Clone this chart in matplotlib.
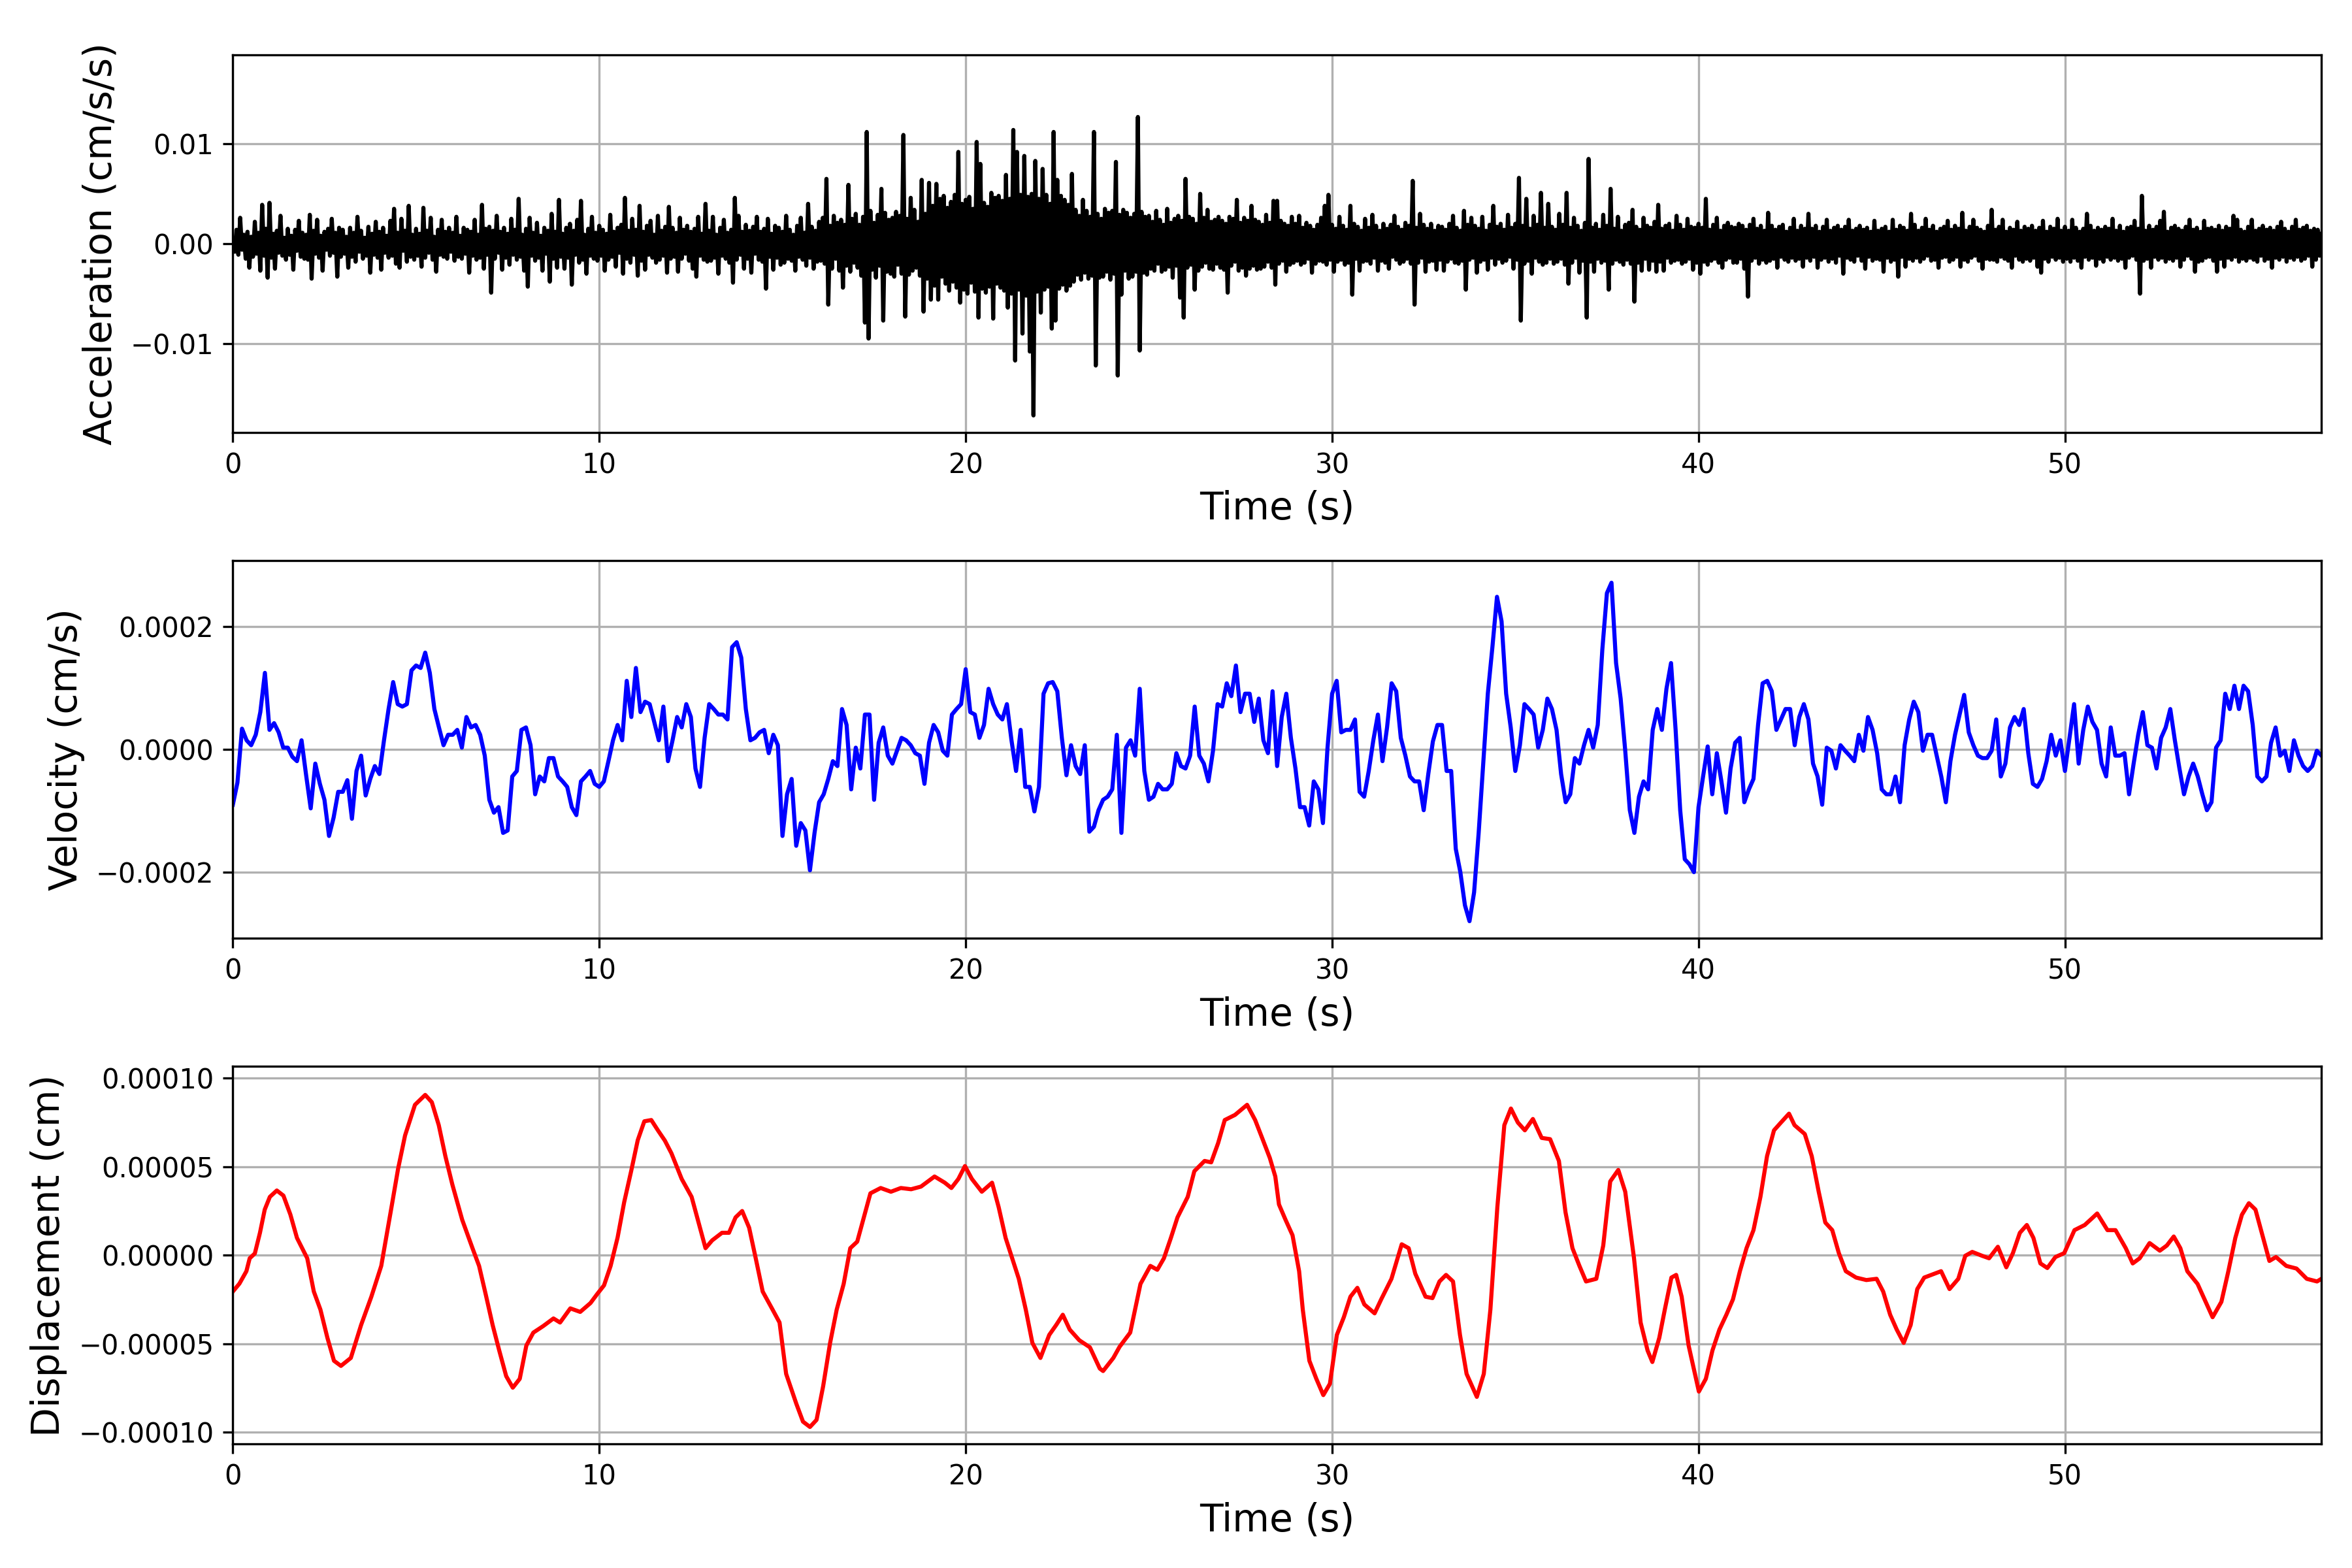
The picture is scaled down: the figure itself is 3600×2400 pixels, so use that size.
import numpy as np
import matplotlib
matplotlib.use("Agg")
from matplotlib import pyplot as plt

# acceleration, read at 0.05 s steps, unit 1e-4 cm/s/s (one row = one second)
acc_dt = 0.05
acc_vals = [
    0, -8, 14, -11, 26, -6, 9, -15, 12, -24, 7, -13, 22, -10, 11, -27, 39, -12, 15, -34,
    41, -14, 10, -25, 13, -9, 28, -12, 6, -16, 15, -11, 8, -26, 14, -7, 23, -13, 11, -15,
    9, -16, 29, -35, 13, -10, 24, -14, 8, -27, 12, -6, 15, -12, 25, -9, 11, -33, 16, -13,
    14, -10, 7, -24, 16, -13, 11, -18, 27, -8, 13, -15, 6, -12, 17, -29, 10, -11, 22, -14,
    12, -26, 16, -9, 8, -14, 23, -12, 35, -20, 11, -24, 25, -7, 13, -18, 38, -13, 9, -16,
    15, -12, 10, -23, 36, -14, 13, -9, 26, -16, 7, -28, 14, -11, 24, -13, 12, -15, 16, -8,
    11, -17, 27, -13, 8, -15, 16, -10, 14, -29, 12, -12, 24, -16, 9, -14, 39, -25, 15, -11,
    17, -49, 13, -15, 28, -9, 12, -26, 16, -14, 10, -21, 25, -11, 14, -16, 45, -13, 9, -27,
    15, -43, 26, -12, 11, -17, 21, -14, 8, -27, 16, -10, 13, -38, 30, -15, 12, -24, 44, -13,
    10, -25, 16, -14, 20, -41, 13, -11, 24, -19, 43, -16, 9, -30, 15, -12, 27, -15, 11, -17,
    18, -12, 14, -27, 10, -16, 29, -13, 12, -23, 16, -9, 19, -30, 46, -15, 13, -19, 25, -11,
    14, -32, 38, -17, 12, -26, 18, -11, 23, -14, 9, -19, 28, -16, 13, -12, 17, -29, 37, -15,
    16, -13, 11, -28, 26, -15, 14, -10, 18, -17, 12, -25, 15, -33, 27, -12, 10, -16, 40, -18,
    13, -17, 27, -14, 9, -30, 16, -12, 24, -15, 11, -19, 14, -39, 46, -16, 28, -11, 12, -25,
    19, -15, 13, -29, 17, -10, 27, -16, 12, -18, 15, -45, 25, -13, 10, -26, 18, -14, 16, -21,
    12, -19, 28, -15, 14, -17, 9, -27, 18, -13, 26, -16, 11, -22, 40, -14, 17, -25, 13, -18,
    22, -17, 26, -20, 65, -61, 18, -25, 28, -15, 21, -27, 24, -44, 19, -22, 59, -28, 25, -19,
    30, -24, 19, -32, 27, -79, 112, -95, 33, -26, 21, -34, 29, -22, 55, -77, 31, -28, 24, -30,
    26, -33, 32, -21, 28, -30, 109, -73, 25, -31, 46, -27, 34, -24, 22, -32, 64, -68, 30, -35,
    61, -56, 38, -42, 60, -56, 45, -33, 48, -40, 36, -47, 42, -38, 49, -44, 92, -59, 40, -46,
    44, -50, 47, -39, 35, -48, 102, -74, 80, -45, 41, -49, 37, -43, 51, -75, 46, -40, 48, -44,
    43, -47, 69, -64, 45, -50, 114, -117, 92, -46, 49, -90, 88, -52, 47, -108, 50, -172, 83, -48,
    45, -69, 75, -46, 49, -43, 40, -85, 112, -77, 64, -45, 48, -41, 44, -47, 39, -42, 70, -38,
    34, -31, 28, -36, 44, -29, 33, -35, 27, -32, 112, -122, 30, -34, 25, -33, 35, -28, 31, -36,
    33, -30, 82, -132, 29, -51, 34, -27, 31, -35, 26, -33, 30, -28, 127, -107, 32, -29, 27, -31,
    28, -25, 22, -27, 33, -20, 24, -28, 19, -26, 35, -23, 21, -34, 25, -22, 28, -54, 23, -74,
    65, -24, 27, -21, 25, -46, 20, -27, 50, -23, 26, -19, 34, -25, 22, -26, 24, -20, 27, -24,
    23, -26, 20, -49, 27, -22, 25, -18, 44, -27, 21, -24, 26, -32, 23, -25, 38, -22, 24, -26,
    22, -25, 19, -23, 29, -18, 21, -24, 43, -41, 43, -20, 23, -17, 20, -28, 18, -21, 27, -19,
    20, -17, 28, -21, 16, -19, 21, -15, 18, -29, 14, -20, 19, -17, 26, -18, 38, -21, 49, -16,
    19, -28, 15, -18, 27, -16, 18, -21, 14, -19, 38, -51, 20, -15, 17, -27, 13, -18, 25, -17,
    16, -20, 29, -14, 18, -27, 13, -17, 20, -19, 15, -25, 19, -13, 28, -16, 17, -20, 14, -18,
    21, -15, 18, -20, 63, -61, 16, -19, 30, -14, 19, -28, 15, -18, 20, -17, 13, -26, 18, -16,
    17, -27, 14, -18, 20, -15, 28, -19, 16, -20, 13, -17, 33, -46, 19, -16, 26, -14, 18, -29,
    15, -18, 27, -16, 13, -26, 19, -14, 38, -21, 17, -15, 20, -19, 14, -17, 29, -13, 16, -25,
    20, -16, 66, -77, 18, -20, 45, -17, 15, -30, 28, -14, 19, -18, 51, -21, 16, -19, 40, -15,
    17, -20, 14, -18, 30, -15, 19, -21, 51, -40, 16, -19, 26, -14, 18, -29, 13, -17, 21, -74,
    85, -18, 16, -28, 20, -15, 14, -19, 29, -17, 18, -46, 55, -20, 15, -16, 27, -18, 13, -21,
    19, -16, 21, -20, 34, -58, 17, -19, 14, -27, 26, -15, 18, -26, 16, -17, 22, -28, 39, -18,
    15, -27, 18, -14, 20, -19, 13, -17, 28, -16, 19, -20, 14, -18, 25, -15, 17, -26, 16, -19,
    20, -30, 16, -18, 45, -21, 14, -17, 19, -15, 26, -19, 13, -24, 18, -16, 21, -14, 17, -19,
    16, -19, 20, -15, 18, -25, 14, -53, 19, -17, 25, -14, 15, -20, 18, -16, 13, -19, 31, -17,
    18, -15, 14, -24, 17, -13, 19, -16, 12, -18, 16, -14, 25, -17, 13, -15, 18, -23, 15, -14,
    30, -17, 15, -13, 18, -24, 12, -16, 17, -14, 24, -18, 13, -15, 16, -19, 18, -12, 14, -30,
    17, -14, 24, -16, 13, -18, 15, -12, 18, -17, 14, -25, 16, -13, 12, -17, 23, -15, 13, -16,
    15, -28, 17, -14, 12, -18, 24, -16, 14, -33, 18, -13, 16, -23, 13, -15, 30, -17, 19, -14,
    13, -18, 16, -15, 25, -12, 14, -17, 18, -16, 12, -24, 15, -14, 17, -13, 23, -18, 14, -16,
    18, -13, 15, -23, 31, -16, 13, -18, 17, -14, 24, -12, 16, -17, 14, -25, 12, -15, 18, -16,
    34, -16, 14, -18, 17, -13, 24, -15, 12, -17, 16, -24, 14, -12, 22, -16, 13, -18, 17, -15,
    15, -17, 18, -14, 13, -23, 16, -29, 23, -15, 12, -18, 17, -13, 15, -16, 25, -14, 13, -18,
    17, -15, 13, -18, 24, -14, 16, -17, 12, -24, 15, -13, 30, -16, 18, -14, 13, -22, 16, -15,
    14, -18, 17, -13, 15, -16, 25, -14, 13, -17, 18, -15, 12, -24, 16, -14, 17, -12, 23, -16,
    15, -50, 48, -17, 13, -15, 18, -24, 14, -13, 17, -16, 23, -14, 32, -18, 12, -15, 16, -17,
    18, -14, 15, -23, 13, -16, 17, -12, 24, -15, 14, -28, 16, -18, 12, -17, 23, -14, 15, -13,
    16, -17, 14, -28, 18, -15, 13, -23, 17, -14, 15, -16, 28, -13, 24, -18, 14, -15, 12, -17,
    17, -14, 24, -16, 13, -18, 15, -12, 18, -17, 14, -15, 16, -24, 13, -14, 17, -16, 22, -13,
    15, -18, 12, -14, 17, -16, 24, -13, 14, -17, 16, -15, 18, -12, 13, -23, 15, -16, 14, -12,
    10,
]

# velocity, read at 0.125 s steps, unit 1e-4 cm/s
vel_dt = 0.125
vel_vals = [
    -0.90, -0.54, 0.34, 0.15, 0.07, 0.24, 0.61, 1.25,
    0.32, 0.43, 0.28, 0.03, 0.03, -0.12, -0.19, 0.15, -0.42, -0.96,
    -0.23, -0.56, -0.82, -1.41, -1.11, -0.69, -0.69, -0.50, -1.13, -0.35,
    -0.10, -0.75, -0.48, -0.27, -0.40, 0.15, 0.66, 1.10, 0.74, 0.70,
    0.74, 1.29, 1.37, 1.33, 1.58, 1.25, 0.66, 0.36, 0.07, 0.24,
    0.24, 0.32, 0.03, 0.53, 0.36, 0.40, 0.24, -0.10, -0.82, -1.03,
    -0.94, -1.36, -1.32, -0.44, -0.35, 0.32, 0.36, 0.07, -0.73, -0.44,
    -0.52, -0.14, -0.14, -0.44, -0.52, -0.61, -0.94, -1.07, -0.52, -0.44,
    -0.35, -0.56, -0.61, -0.52, -0.19, 0.15, 0.40, 0.15, 1.12, 0.53,
    1.33, 0.61, 0.78, 0.74, 0.45, 0.15, 0.70, -0.19, 0.15, 0.53,
    0.36, 0.74, 0.53, -0.31, -0.61, 0.19, 0.74, 0.66, 0.57, 0.57,
    0.49, 1.67, 1.75, 1.50, 0.66, 0.15, 0.19, 0.28, 0.32, -0.06,
    0.24, 0.07, -1.41, -0.73, -0.48, -1.57, -1.20, -1.32, -1.97, -1.36,
    -0.86, -0.73, -0.48, -0.19, -0.27, 0.66, 0.40, -0.65, 0.03, -0.31,
    0.57, 0.57, -0.82, 0.11, 0.36, -0.10, -0.23, -0.02, 0.19, 0.15,
    0.07, -0.06, -0.10, -0.56, 0.11, 0.40, 0.28,
    # 19.375 s onwards
    -0.02, -0.10, 0.57, 0.66, 0.74, 1.31, 0.61, 0.57, 0.19, 0.40,
    0.99, 0.74, 0.57, 0.49, 0.74, 0.15, -0.35, 0.32, -0.61, -0.61,
    -1.01, -0.61, 0.91, 1.08, 1.10, 0.95, 0.19, -0.42, 0.07, -0.27,
    -0.40, 0.07, -1.34, -1.26, -0.99, -0.82, -0.77, -0.65, 0.24, -1.36,
    0.03, 0.15, -0.10, 0.99, -0.35, -0.82, -0.77, -0.56, -0.65, -0.65,
    -0.56, -0.06, -0.27, -0.31, -0.10, 0.70, -0.10, -0.23, -0.52, -0.02,
    0.74, 0.70, 1.08, 0.87, 1.37, 0.61, 0.91, 0.91, 0.45, 0.83,
    0.15, -0.06, 0.95, -0.27, 0.53, 0.91, 0.19, -0.31, -0.94, -0.94,
    -1.24, -0.52, -0.65, -1.20, 0.03, 0.91, 1.12, 0.28, 0.32, 0.32,
    0.49, -0.69, -0.77, -0.35, 0.15, 0.57, -0.19, 0.36, 1.08, 0.95,
    0.19, -0.10, -0.44, -0.52, -0.52, -0.99, -0.40, 0.13, 0.40, 0.40,
    -0.35, -0.35, -1.62, -2.00, -2.54, -2.80, -2.33, -1.36, -0.23, 0.91,
    1.67, 2.49, 2.09, 0.91, 0.36, -0.35, 0.07, 0.74, 0.66, 0.57,
    0.03, 0.32, 0.83, 0.66, 0.32, -0.40, -0.86, -0.73, -0.14, -0.23,
    0.07, 0.32, 0.03, 0.40, 1.63, 2.55, 2.72, 1.41, 0.83, -0.02,
    -0.99, -1.36, -0.77, -0.52,
    # 38.625 s onwards
    -0.65, 0.32, 0.66, 0.32, 0.99, 1.41, 0.32, -0.99, -1.79, -1.87,
    -2.00, -0.94, -0.44, 0.05, -0.73, -0.06, -0.52, -1.03, -0.31, 0.11,
    0.19, -0.86, -0.65, -0.48, 0.40, 1.08, 1.12, 0.95, 0.32, 0.49,
    0.66, 0.66, 0.07, 0.53, 0.74, 0.49, -0.23, -0.44, -0.90, 0.03,
    -0.02, -0.31, 0.07, -0.02, -0.10, -0.19, 0.24, -0.02, 0.53, 0.32,
    -0.06, -0.65, -0.73, -0.73, -0.44, -0.86, 0.07, 0.49, 0.78, 0.61,
    -0.02, 0.24, 0.24, -0.10, -0.44, -0.86, -0.19, 0.24, 0.57, 0.89,
    0.28, 0.07, -0.10, -0.14, -0.14, -0.02, 0.49, -0.44, -0.23, 0.36,
    0.53, 0.40, 0.66, -0.06, -0.56, -0.61, -0.48, -0.19, 0.24, -0.10,
    0.15, -0.35, 0.19, 0.74, -0.23, 0.32, 0.70, 0.45, 0.32, -0.23,
    -0.44, 0.36, -0.10, -0.10, -0.06, -0.73, -0.23, 0.24, 0.61, 0.07,
    0.03, -0.31, 0.19, 0.36, 0.66, 0.15, -0.31, -0.73, -0.44, -0.23,
    -0.44, -0.73, -0.99, -0.86, 0.03, 0.15, 0.91, 0.66, 1.04, 0.66,
    1.04, 0.95, 0.40, -0.44, -0.52, -0.44, 0.11, 0.36, -0.10, -0.02,
    -0.35, 0.15, -0.10, -0.27, -0.35, -0.27, -0.02, -0.10,
]

# displacement, read at the turning points, unit 1e-5 cm
disp_time = [
    0.0, 0.18, 0.37, 0.46, 0.6, 0.74, 0.87, 1.01, 1.2, 1.38, 1.57, 1.75,
    2.03, 2.21, 2.39, 2.58, 2.76, 2.95, 3.22, 3.5, 3.78, 4.05, 4.33, 4.51,
    4.7, 4.97, 5.25, 5.43, 5.62, 5.8, 5.99, 6.26, 6.54, 6.72, 6.9, 7.09,
    7.27, 7.46, 7.64, 7.83, 8.01, 8.2, 8.47, 8.75, 8.93, 9.21, 9.48, 9.76,
    9.94, 10.13, 10.31, 10.5, 10.68, 10.87, 11.05, 11.23, 11.42, 11.6, 11.79, 11.97,
    12.25, 12.52, 12.71, 12.9, 13.08, 13.35, 13.54, 13.72, 13.9, 14.09, 14.27, 14.46,
    14.73, 14.92, 15.1, 15.38, 15.56, 15.75, 15.93, 16.11, 16.3, 16.48, 16.67, 16.85,
    17.04, 17.22, 17.4, 17.68, 17.96, 18.23, 18.51, 18.78, 19.15, 19.43, 19.61, 19.8,
    19.98, 20.17, 20.44, 20.72, 20.9, 21.09, 21.27, 21.45, 21.64, 21.82, 22.04, 22.28,
    22.47, 22.65, 22.84, 23.1, 23.39, 23.66, 23.75, 24.03, 24.2, 24.49, 24.77, 25.04,
    25.23, 25.41, 25.6, 25.78, 26.06, 26.24, 26.52, 26.7, 26.89, 27.07, 27.35, 27.68,
    27.9, 28.09, 28.3, 28.45, 28.55, 28.73, 28.92, 29.1, 29.2, 29.38, 29.57, 29.76,
    29.94, 30.13, 30.32, 30.5, 30.69, 30.88, 31.16, 31.34, 31.62, 31.9, 32.09, 32.27,
    32.55, 32.74, 32.93, 33.11, 33.3, 33.49, 33.67, 33.95, 34.14, 34.32, 34.51, 34.7,
    34.88, 35.07, 35.26, 35.48, 35.72, 35.95, 36.19, 36.37, 36.56, 36.75, 36.93, 37.21,
    37.4, 37.59, 37.81, 38.0, 38.24, 38.42, 38.61, 38.74, 38.93, 39.08, 39.26, 39.39,
    39.54, 39.73, 40.01, 40.2, 40.38, 40.57, 40.76, 40.94, 41.13, 41.31, 41.5, 41.69,
    41.87, 42.06, 42.25, 42.47, 42.62, 42.9, 43.09, 43.28, 43.46, 43.65, 43.83, 44.02,
    44.3, 44.58, 44.86, 45.04, 45.23, 45.41, 45.6, 45.79, 45.97, 46.16, 46.44, 46.62,
    46.85, 47.09, 47.28, 47.47, 47.74, 47.93, 48.17, 48.4, 48.58, 48.77, 48.96, 49.14,
    49.33, 49.52, 49.74, 49.98, 50.26, 50.54, 50.73, 50.88, 51.16, 51.38, 51.66, 51.85,
    52.04, 52.31, 52.59, 52.78, 52.97, 53.15, 53.34, 53.62, 53.81, 54.03, 54.27, 54.46,
    54.65, 54.83, 55.02, 55.2, 55.39, 55.58, 55.76, 56.04, 56.32, 56.6, 56.88, 57.0,
]
disp_vals = [
    -2.05, -1.6, -0.9, -0.17, 0.1, 1.27, 2.58, 3.3, 3.66, 3.37, 2.3, 0.98,
    -0.17, -2.05, -3.07, -4.66, -5.96, -6.25, -5.8, -3.94, -2.34, -0.6, 2.72, 4.89,
    6.77, 8.5, 9.06, 8.65, 7.35, 5.6, 4.0, 2.0, 0.4, -0.6, -2.2, -3.94,
    -5.38, -6.83, -7.48, -6.98, -5.1, -4.37, -4.0, -3.57, -3.8, -3.0, -3.2, -2.7,
    -2.2, -1.7, -0.6, 1.0, 3.0, 4.75, 6.5, 7.57, 7.64, 7.06, 6.48, 5.76,
    4.31, 3.3, 1.85, 0.4, 0.84, 1.27, 1.27, 2.14, 2.5, 1.56, -0.17, -2.05,
    -3.07, -3.8, -6.7, -8.4, -9.4, -9.7, -9.3, -7.4, -4.95, -3.07, -1.62, 0.4,
    0.77, 2.14, 3.5, 3.8, 3.59, 3.8, 3.73, 3.88, 4.45, 4.1, 3.8, 4.31,
    5.04, 4.31, 3.59, 4.1, 2.72, 0.98, -0.17, -1.33, -3.07, -4.95, -5.8, -4.5,
    -3.94, -3.36, -4.2, -4.8, -5.2, -6.4, -6.54, -5.8, -5.17, -4.37, -1.62, -0.6,
    -0.82, -0.17, 0.98, 2.14, 3.3, 4.75, 5.33, 5.25, 6.34, 7.64, 7.93, 8.5,
    7.64, 6.63, 5.5, 4.45, 2.87, 2.0, 1.13, -0.9, -3.07, -5.96, -6.98, -7.9,
    -7.26, -4.5, -3.5, -2.34, -1.84, -2.78, -3.28, -2.49, -1.33, 0.62, 0.4, -1.04,
    -2.34, -2.42, -1.48, -1.11, -1.48, -4.5, -6.7, -8.0, -6.7, -3.07, 2.72, 7.35,
    8.29, 7.5, 7.06, 7.7, 6.63, 6.56, 5.33, 2.43, 0.4, -0.6, -1.48, -1.33,
    0.55, 4.17, 4.82, 3.59, -0.17, -3.8, -5.38, -6.03, -4.66, -3.07, -1.26, -1.11,
    -2.34, -5.1, -7.7, -6.98, -5.38, -4.2, -3.36, -2.49, -0.9, 0.4, 1.42, 3.3,
    5.6, 7.06, 7.5, 8.0, 7.35, 6.85, 5.6, 3.59, 1.85, 1.42, 0.12, -0.9,
    -1.26, -1.4, -1.33, -2.05, -3.36, -4.2, -4.95, -3.94, -1.91, -1.26, -1.04, -0.9,
    -1.91, -1.33, -0.03, 0.19, -0.03, -0.17, 0.48, -0.68, 0.12, 1.27, 1.71, 0.98,
    -0.46, -0.72, -0.1, 0.12, 1.42, 1.71, 2.07, 2.36, 1.42, 1.42, 0.4, -0.46,
    -0.17, 0.69, 0.26, 0.55, 1.06, 0.4, -0.9, -1.62, -2.49, -3.5, -2.63, -0.9,
    0.98, 2.29, 2.94, 2.58, 1.13, -0.32, -0.1, -0.6, -0.75, -1.33, -1.48, -1.33,
]

acc = np.array(acc_vals) * 1e-4
acc_t = np.arange(len(acc)) * acc_dt
vel = np.array(vel_vals) * 1e-4
vel_t = np.arange(len(vel)) * vel_dt
disp = np.array(disp_vals) * 1e-5
disp_t = np.array(disp_time)

t_end = 57.0

fig, axes = plt.subplots(3, 1, figsize=(12, 8), dpi=300)

series = [
    (acc_t, acc, 'black', 'Acceleration (cm/s/s)'),
    (vel_t, vel, 'blue', 'Velocity (cm/s)'),
    (disp_t, disp, 'red', 'Displacement (cm)'),
]

for ax, (t, y, c, name) in zip(axes, series):
    ax.plot(t, y, color=c, linewidth=1.5)
    lim = 1.1 * np.abs(y).max()
    ax.set_ylim(-lim, lim)
    ax.set_xlim(0, t_end)
    ax.set_xlabel("Time (s)", fontsize=14)
    ax.set_ylabel(name, fontsize=14)
    ax.grid(True)

plt.subplots_adjust(left=0.099, right=0.987, top=0.965, bottom=0.079, hspace=0.339)
plt.savefig("out.png")
